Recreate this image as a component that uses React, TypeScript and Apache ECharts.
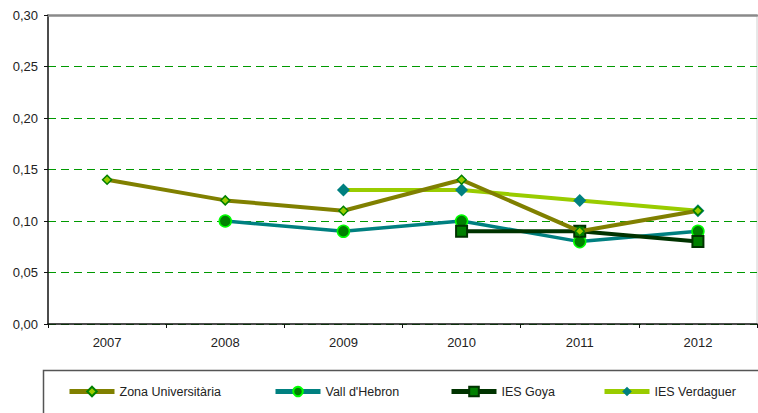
import React, { useEffect, useRef } from "react";
import * as echarts from "echarts";

const years = ["2007", "2008", "2009", "2010", "2011", "2012"];
const zonaUniversitaria = [0.14, 0.12, 0.11, 0.14, 0.09, 0.11];
const vallHebron = [null, 0.10, 0.09, 0.10, 0.08, 0.09];
const iesGoya = [null, null, null, 0.09, 0.09, 0.08];
const iesVerdaguer = [null, null, 0.13, 0.13, 0.12, 0.11];

const FONT = "'Liberation Sans', Arial, sans-serif";

export default function App() {
  const ref = useRef<HTMLDivElement>(null);
  useEffect(() => {
    if (!ref.current) return;
    const chart = echarts.init(ref.current, undefined, { renderer: "svg" });
    const legendBase = (name: string, left: number) => ({
      data: [name],
      left,
      top: 385,
      itemWidth: 45,
      itemHeight: 12,
      padding: 0,
      lineStyle: { width: 5 },
      textStyle: { fontFamily: FONT, fontSize: 12.5, color: "#222" },
    });
    chart.setOption({
      animation: false,
      backgroundColor: "#ffffff",
      grid: { left: 48, top: 15, width: 709, height: 309, outerBoundsMode: "none" },
      legend: [
        legendBase("Zona Universitària", 67),
        legendBase("Vall d'Hebron", 273),
        legendBase("IES Goya", 449),
        legendBase("IES Verdaguer", 602),
      ],
      xAxis: [
        {
          type: "category",
          data: years,
          boundaryGap: true,
          axisLine: { lineStyle: { color: "#111", width: 1.5 } },
          axisTick: { show: true, length: 4, lineStyle: { color: "#111" } },
          axisLabel: { margin: 12, fontFamily: FONT, fontSize: 13, color: "#222" },
          splitLine: { show: false },
        },
        {
          type: "category",
          data: years,
          position: "top",
          axisLine: { lineStyle: { color: "#8a8a8a", width: 2.5 } },
          axisTick: { show: false },
          axisLabel: { show: false },
          splitLine: { show: false },
        },
      ],
      yAxis: {
        type: "value",
        min: 0,
        max: 0.3,
        interval: 0.05,
        axisLine: { show: true, lineStyle: { color: "#111", width: 1.5 } },
        axisTick: { show: true, length: 4, lineStyle: { color: "#111" } },
        axisLabel: {
          margin: 10,
          fontFamily: FONT,
          fontSize: 13,
          color: "#222",
          formatter: (v: number) => v.toFixed(2).replace(".", ","),
        },
        splitLine: { show: true, lineStyle: { color: "#009900", type: [8, 5], width: 1 } },
      },
      graphic: [
        {
          type: "line",
          shape: { x1: 757, y1: 15, x2: 757, y2: 324 },
          style: { stroke: "#d0d0d0", lineWidth: 1 },
        },
        {
          type: "rect",
          shape: { x: 43.5, y: 370.5, width: 800, height: 100 },
          style: { fill: "none", stroke: "#555", lineWidth: 1.5 },
        },
      ],
      series: [
        {
          name: "Zona Universitària",
          type: "line",
          data: zonaUniversitaria,
          symbol: "diamond",
          symbolSize: 9,
          lineStyle: { color: "#808000", width: 4 },
          itemStyle: { color: "#99cc00", borderColor: "#008000", borderWidth: 1.5 },
          z: 4,
        },
        {
          name: "Vall d'Hebron",
          type: "line",
          data: vallHebron,
          symbol: "circle",
          symbolSize: 12,
          lineStyle: { color: "#008080", width: 3.5 },
          itemStyle: { color: "#008000", borderColor: "#00ff00", borderWidth: 1.5 },
          z: 3,
        },
        {
          name: "IES Goya",
          type: "line",
          data: iesGoya,
          symbol: "rect",
          symbolSize: 11,
          lineStyle: { color: "#003300", width: 4 },
          itemStyle: { color: "#008000", borderColor: "#003300", borderWidth: 2 },
          z: 3,
        },
        {
          name: "IES Verdaguer",
          type: "line",
          data: iesVerdaguer,
          symbol: "diamond",
          symbolSize: 13,
          lineStyle: { color: "#99cc00", width: 4 },
          itemStyle: { color: "#008080", borderWidth: 0 },
          z: 2,
        },
      ],
    });
    return () => chart.dispose();
  }, []);
  return (
    <div
      ref={ref}
      style={{ position: "absolute", left: 0, top: 0, width: 758, height: 413 }}
    />
  );
}
